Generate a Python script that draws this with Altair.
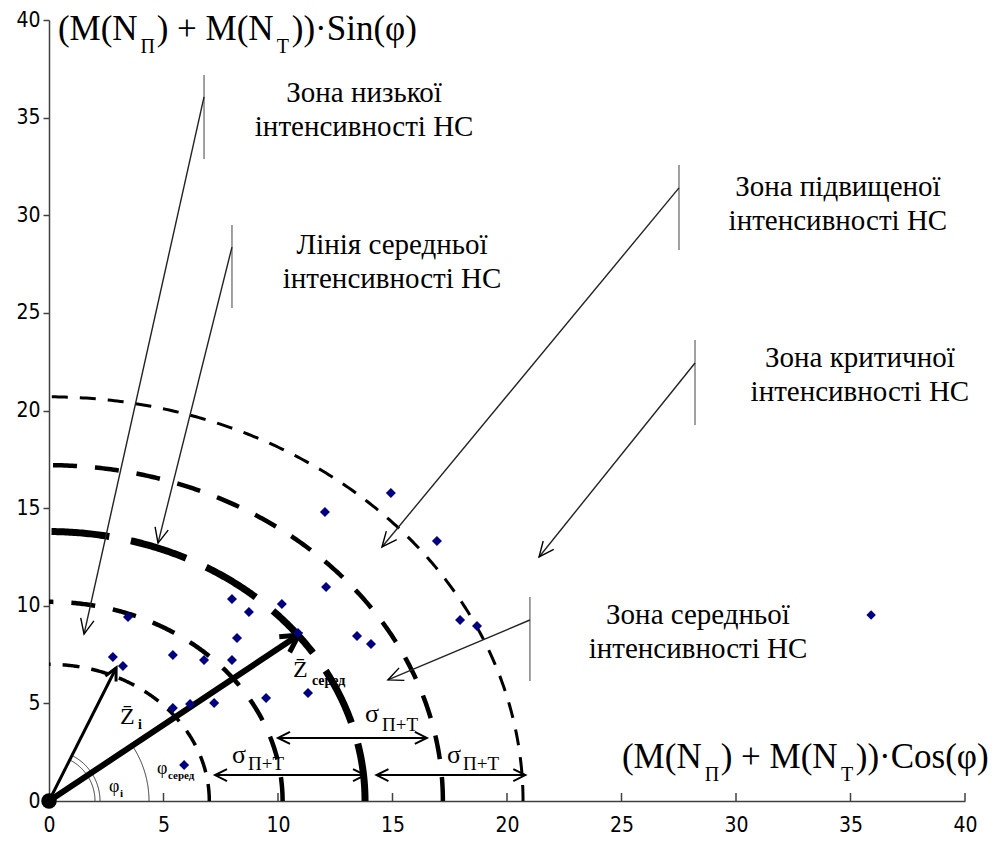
import math
import altair as alt
import numpy as np
import pandas as pd

W, H = 916, 781
XMAX, YMAX = 40, 40
SERIF = "Liberation Serif, Times New Roman, serif"
NARROW = "Liberation Sans Narrow, Arial Narrow, DejaVu Sans Condensed, sans-serif"
AX = "#404040"

# ---------------- data ----------------
pt_x = [14.93, 12.05, 16.94, 12.10, 17.95, 18.69, 7.99, 8.73, 10.17, 3.45, 8.21, 10.87, 13.45,
        14.06, 2.79, 3.23, 5.41, 6.77, 7.99, 5.41, 6.16, 7.21, 9.48, 11.31, 5.90]
pt_y = [15.77, 14.80, 13.32, 10.96, 9.27, 8.96, 10.35, 9.68, 10.09, 9.42, 8.35, 8.60, 8.45,
        8.04, 7.38, 6.91, 7.48, 7.22, 7.22, 4.76, 4.97, 5.02, 5.28, 5.53, 1.84]

ring_radius = [7.0, 10.2, 13.8, 17.2, 20.7]

origin = [0.0, 0.0]
zi_tip = [2.93, 6.81]
zmean_tip = [10.9, 8.5]

tick_values = [0, 5, 10, 15, 20, 25, 30, 35, 40]

callout_bar_x = [6.77, 7.99, 27.51, 28.21, 21.0]
callout_bar_y1 = [37.18, 29.50, 32.57, 23.61, 10.45]
callout_bar_y2 = [32.88, 25.25, 28.22, 19.26, 6.15]
callout_start_y = [36.06, 28.37, 31.40, 22.43, 9.27]
callout_tip_x = [1.53, 4.76, 14.54, 21.40, 14.80]
callout_tip_y = [8.55, 13.21, 13.01, 12.50, 6.20]
callout_text = ["Зона низької\nінтенсивності НС", "Лінія середньої\nінтенсивності НС",
                "Зона підвищеної\nінтенсивності НС", "Зона критичної\nінтенсивності НС",
                "Зона середньої\nінтенсивності НС"]
callout_text_x = [13.76, 14.98, 34.45, 35.41, 28.34]
callout_text_y = [36.26, 28.48, 31.45, 22.69, 9.53]

sigma_y = [3.23, 1.33, 1.33]
sigma_x1 = [10.0, 7.25, 14.3]
sigma_x2 = [16.5, 13.8, 20.8]
sigma_label_x = [13.8, 7.99, 17.38]
sigma_label_y = [4.05, 1.95, 1.95]
sigma_sub_x = [14.54, 8.69, 18.08]
sigma_sub_y = [3.59, 1.59, 1.59]

legend_marker = [35.9, 9.53]

ytitle_parts = ["(M(N", "П", ") + M(N", "Т", "))·Sin(φ)"]
ytitle_x = [0.39, 4.0, 4.70, 9.95, 10.60]
ytitle_main_y, ytitle_sub_y = 38.976, 38.31
xtitle_parts = ["(M(N", "П", ") + M(N", "Т", "))·Cos(φ)"]
xtitle_x = [25.02, 28.63, 29.33, 34.58, 35.23]
xtitle_main_y, xtitle_sub_y = 1.69, 1.02

# ---------------- scales / encodings ----------------
xs = alt.Scale(domain=[0, XMAX], nice=False, zero=False)
ys = alt.Scale(domain=[0, YMAX], nice=False, zero=False)
xaxis = alt.Axis(values=tick_values, ticks=False, domainColor=AX, domainWidth=1.5, grid=False,
                 labelFont=NARROW, labelFontSize=21, labelColor="black", labelPadding=13,
                 labelFlush=False, title="")
yaxis = alt.Axis(values=tick_values, tickSize=6, tickWidth=1.5, tickColor=AX, domainColor=AX,
                 domainWidth=1.5, grid=False, labelFont=NARROW, labelFontSize=21,
                 labelColor="black", labelPadding=3, labelFlush=False, title="")
X = alt.X("x:Q", scale=xs, axis=xaxis)
Y = alt.Y("y:Q", scale=ys, axis=yaxis)
SX, SY = W / XMAX, H / YMAX


def head_angle(x0, y0, x1, y1):
    dxp = (x1 - x0) * SX
    dyp = -(y1 - y0) * SY
    return math.degrees(math.atan2(dxp, -dyp)) % 360


def heads(tips, starts, size, sw, half=0.5):
    df = pd.DataFrame({
        "x": [t[0] for t in tips], "y": [t[1] for t in tips],
        "a": [head_angle(s[0], s[1], t[0], t[1]) for s, t in zip(starts, tips)],
    })
    path = f"M{-half},1L0,0L{half},1"
    return alt.Chart(df).mark_point(shape=path, filled=False, size=size, strokeWidth=sw,
                                    color="black", opacity=1, strokeJoin="miter").encode(
        x=X, y=Y, angle=alt.Angle("a:Q", scale=None))


def rules(x1, y1, x2, y2, color, sw):
    df = pd.DataFrame({"x": x1, "y": y1, "x2": x2, "y2": y2})
    return alt.Chart(df).mark_rule(color=color, strokeWidth=sw).encode(x=X, y=Y, x2="x2:Q", y2="y2:Q")


def txt(xv, yv, texts, size, weight="normal", align="left", baseline="alphabetic", font=SERIF, **kw):
    df = pd.DataFrame({"x": xv, "y": yv, "t": texts})
    return alt.Chart(df).mark_text(align=align, baseline=baseline, font=font, fontSize=size,
                                   fontWeight=weight, color="black", **kw).encode(
        x=X, y=Y, text="t:N")


layers = []

# dashed rings (circles in data space), drawn from the x axis up to the y axis
ring_style = [(3.5, [17, 12]), (4.5, [24, 18]), (7, [58, 22]), (4.5, [24, 18]), (3, [16, 12])]
t = np.linspace(0, math.pi / 2, 240)
for r, (sw, dash) in zip(ring_radius, ring_style):
    df = pd.DataFrame({"x": r * np.cos(t), "y": r * np.sin(t), "o": np.arange(len(t))})
    layers.append(alt.Chart(df).mark_line(color="black", strokeWidth=sw, strokeDash=dash,
                                          strokeCap="butt").encode(x=X, y=Y, order="o:Q"))

# angle arcs (circles in pixel space)
ang_i = math.atan2(zi_tip[1] * SY, zi_tip[0] * SX)
ang_m = math.atan2(zmean_tip[1] * SY, zmean_tip[0] * SX)
for rp, amax in [(46, ang_i), (51, ang_i), (100, ang_m)]:
    tt = np.linspace(0, amax, 80)
    df = pd.DataFrame({"x": rp * np.cos(tt) / SX, "y": rp * np.sin(tt) / SY, "o": np.arange(80)})
    layers.append(alt.Chart(df).mark_line(color="#333333", strokeWidth=1).encode(x=X, y=Y, order="o:Q"))

# x-axis ticks pointing inward
layers.append(alt.Chart(pd.DataFrame({"x": tick_values[1:]})).mark_rule(color=AX, strokeWidth=1.5).encode(
    x=X, y=alt.value(H), y2=alt.value(H - 8)))

# callouts
layers.append(rules(callout_bar_x, callout_bar_y1, callout_bar_x, callout_bar_y2, "#808080", 1.5))
layers.append(rules(callout_bar_x, callout_start_y, callout_tip_x, callout_tip_y, "#222222", 1.4))
layers.append(heads(list(zip(callout_tip_x, callout_tip_y)),
                    list(zip(callout_bar_x, callout_start_y)), 900, 1.4, 0.45))

# sigma arrows
layers.append(rules(sigma_x1, sigma_y, sigma_x2, sigma_y, "black", 2))
layers.append(heads(list(zip(sigma_x1, sigma_y)) + list(zip(sigma_x2, sigma_y)),
                    list(zip(sigma_x2, sigma_y)) + list(zip(sigma_x1, sigma_y)), 576, 2, 0.5))

# vectors
layers.append(rules([origin[0]], [origin[1]], [zi_tip[0]], [zi_tip[1]], "black", 3))
layers.append(heads([zi_tip], [origin], 576, 3, 0.5))
layers.append(rules([origin[0]], [origin[1]], [zmean_tip[0]], [zmean_tip[1]], "black", 6))
layers.append(heads([zmean_tip], [origin], 1156, 5, 0.55))

# points
layers.append(alt.Chart(pd.DataFrame({"x": pt_x, "y": pt_y})).mark_point(
    shape="diamond", filled=True, size=100, color="#000080", opacity=1).encode(x=X, y=Y))
layers.append(alt.Chart(pd.DataFrame({"x": [legend_marker[0]], "y": [legend_marker[1]]})).mark_point(
    shape="diamond", filled=True, size=90, color="#000080", opacity=1).encode(x=X, y=Y))
layers.append(alt.Chart(pd.DataFrame({"x": [origin[0]], "y": [origin[1]]})).mark_circle(
    size=240, color="black", opacity=1).encode(x=X, y=Y))

# callout texts
layers.append(txt(callout_text_x, callout_text_y, callout_text, 29, align="center", baseline="middle",
                  lineBreak="\n", lineHeight=34))

# axis formulas
main_idx = [0, 2, 4]
sub_idx = [1, 3]
layers.append(txt([ytitle_x[i] for i in main_idx], [ytitle_main_y] * 3, [ytitle_parts[i] for i in main_idx], 35))
layers.append(txt([ytitle_x[i] for i in sub_idx], [ytitle_sub_y] * 2, [ytitle_parts[i] for i in sub_idx], 20))
layers.append(txt([xtitle_x[i] for i in main_idx], [xtitle_main_y] * 3, [xtitle_parts[i] for i in main_idx], 35))
layers.append(txt([xtitle_x[i] for i in sub_idx], [xtitle_sub_y] * 2, [xtitle_parts[i] for i in sub_idx], 20))

# sigma labels
layers.append(txt(sigma_label_x, sigma_label_y, ["σ"] * 3, 26))
layers.append(txt(sigma_sub_x, sigma_sub_y, ["П+Т"] * 3, 19))

# vector and angle labels
layers.append(txt([3.1, 10.66], [3.94, 6.35], ["Z\u0304", "Z\u0304"], 24))
layers.append(txt([3.89], [3.69], ["i"], 14, weight="bold"))
layers.append(txt([11.48], [5.94], ["серед"], 14, weight="bold"))
layers.append(txt([4.72, 2.62], [1.38, 0.46], ["φ", "φ"], 18))
layers.append(txt([5.2], [1.13], ["серед"], 11, weight="bold"))
layers.append(txt([3.1], [0.2], ["i"], 11, weight="bold"))

chart = alt.layer(*layers).properties(
    width=W, height=H,
    padding={"left": 41, "top": 12, "right": 27, "bottom": 34},
    autosize=alt.AutoSizeParams(type="none"),
    background="white",
).configure_view(stroke=None)

chart.save("out.html", embed_options={"renderer": "svg", "actions": False})
